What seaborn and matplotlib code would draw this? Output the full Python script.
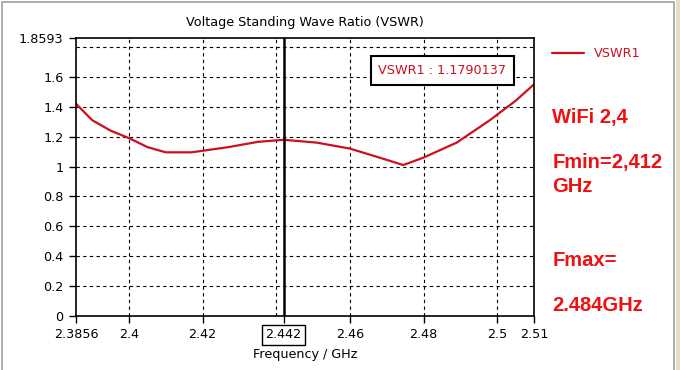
import pandas as pd
import matplotlib
matplotlib.use("Agg")
import matplotlib.pyplot as plt
from matplotlib.patches import Rectangle
import seaborn as sns

# VSWR curve
freq = [2.3856, 2.39, 2.395, 2.40, 2.405, 2.41, 2.417, 2.427, 2.435, 2.442,
        2.451, 2.46, 2.468, 2.4745, 2.48, 2.489, 2.498, 2.505, 2.51]
vswr = [1.42, 1.31, 1.24, 1.19, 1.13, 1.095, 1.095, 1.13, 1.165, 1.179,
        1.16, 1.12, 1.06, 1.01, 1.06, 1.16, 1.31, 1.44, 1.55]

marker_freq = 2.442
marker_value = "1.1790137"

x_ticks = [2.3856, 2.4, 2.42, 2.442, 2.46, 2.48, 2.5, 2.51]
x_tick_labels = ["2.3856", "2.4", "2.42", "2.442", "2.46", "2.48", "2.5", "2.51"]
x_grid = [2.40, 2.42, 2.44, 2.46, 2.48, 2.50]
y_ticks = [0, 0.2, 0.4, 0.6, 0.8, 1.0, 1.2, 1.4, 1.6, 1.8593]
y_tick_labels = ["0", "0.2", "0.4", "0.6", "0.8", "1", "1.2", "1.4", "1.6", "1.8593"]
y_grid = [0.2, 0.4, 0.6, 0.8, 1.0, 1.2, 1.4, 1.6, 1.8]

side_notes = [("WiFi 2,4", 0.683), ("Fmin=2,412", 0.562), ("GHz", 0.495),
              ("Fmax=", 0.297), ("2.484GHz", 0.175)]

df = pd.DataFrame({"freq": freq, "vswr": vswr})

sns.set_style("white")
plt.rcParams["font.family"] = ["DejaVu Sans"]
plt.rcParams["text.color"] = "black"
plt.rcParams["axes.labelcolor"] = "black"
plt.rcParams["xtick.color"] = "black"
plt.rcParams["ytick.color"] = "black"

fig = plt.figure(figsize=(6.8, 3.7), dpi=100)
ax = fig.add_axes([0.1118, 0.146, 0.6735, 0.751])

# window frame around the picture
fig.patches.append(Rectangle((0.003, -0.01), 0.988, 1.005, transform=fig.transFigure,
                             fill=False, edgecolor="#a0a0a0", linewidth=1.2))
fig.patches.append(Rectangle((0.994, 0), 0.006, 1, transform=fig.transFigure,
                             facecolor="#e6dcc4", edgecolor="none"))

red = "#cc1020"
sns.lineplot(data=df, x="freq", y="vswr", ax=ax, color=red, linewidth=1.6, label="VSWR1")

for g in x_grid:
    ax.axvline(g, color="black", linestyle=(0, (3, 3)), linewidth=0.8, zorder=0)
for g in y_grid:
    ax.axhline(g, color="black", linestyle=(0, (3, 3)), linewidth=0.8, zorder=0)

ax.axvline(marker_freq, color="black", linewidth=1.8)

ax.set_xlim(2.3856, 2.51)
ax.set_ylim(0, 1.8593)
ax.set_xticks(x_ticks)
ax.set_xticklabels(x_tick_labels)
ax.set_yticks(y_ticks)
ax.set_yticklabels(y_tick_labels)
ax.tick_params(axis="both", direction="out", length=5, width=1, color="black",
               labelcolor="black", labelsize=9.2, bottom=True, left=True, pad=4)
for lbl in ax.get_xticklabels():
    if lbl.get_text() == "2.442":
        lbl.set_bbox(dict(facecolor="white", edgecolor="black", linewidth=1, pad=2.5))

for s in ax.spines.values():
    s.set_color("black")
    s.set_linewidth(1.2)

ax.set_xlabel("Frequency / GHz", fontsize=9.2, labelpad=5, color="black")
ax.set_ylabel("")
ax.set_title("Voltage Standing Wave Ratio (VSWR)", fontsize=9.2, pad=9, color="black")

ax.text(0.80, 0.884, "VSWR1 : " + marker_value, transform=ax.transAxes,
        ha="center", va="center", color=red, fontsize=9.2,
        bbox=dict(facecolor="white", edgecolor="black", linewidth=1.5, pad=5.5))

leg = ax.legend(loc="upper left", bbox_to_anchor=(1.02, 1.0), frameon=False,
                fontsize=9.2, handlelength=2.5, borderaxespad=0.3)
for t in leg.get_texts():
    t.set_color(red)

for txt, y in side_notes:
    fig.text(0.812, y, txt, color="#ee1111", fontsize=14.5, fontweight="bold",
             family=["Liberation Sans", "DejaVu Sans"], ha="left", va="center")

fig.savefig("out.png", dpi=100)
plt.close(fig)
